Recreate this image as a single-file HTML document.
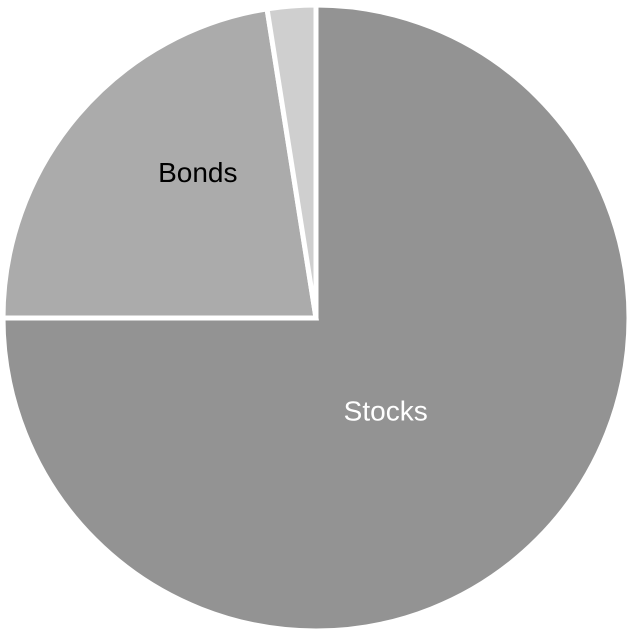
<!DOCTYPE html>
<html><head><meta charset="utf-8"><style>
html,body{margin:0;padding:0;background:#fff;width:632px;height:632px;overflow:hidden}
svg text{font-family:"Liberation Sans",sans-serif;font-size:28px}
</style></head><body>
<svg id="chart" width="632" height="632" viewBox="0 0 632 632"></svg>
<script>
const categories = ["Stocks", "Bonds", "Other"];
const values = [75, 22.5, 2.5];
const colors = ["#939393", "#ababab", "#cfcfcf"];
const labelColors = ["#ffffff", "#000000", null];
const labelRadius = [0.37, 0.6, 0];
const labelAngleShift = [8, 10.5, 0];

const svg = document.getElementById('chart');
const NS = 'http://www.w3.org/2000/svg';
const cx = 316, cy = 318, r = 313;
const total = values.reduce((a, b) => a + b, 0);
function pt(angleDeg, rad) {
  const a = angleDeg * Math.PI / 180;
  return [cx + rad * Math.sin(a), cy - rad * Math.cos(a)];
}
let start = 0;
values.forEach((v, i) => {
  const sweep = v / total * 360;
  const end = start + sweep;
  const [x1, y1] = pt(start, r), [x2, y2] = pt(end, r);
  const large = sweep > 180 ? 1 : 0;
  const p = document.createElementNS(NS, 'path');
  p.setAttribute('d', `M${cx},${cy} L${x1},${y1} A${r},${r} 0 ${large} 1 ${x2},${y2} Z`);
  p.setAttribute('fill', colors[i]);
  p.setAttribute('stroke', '#ffffff');
  p.setAttribute('stroke-width', '5');
  p.setAttribute('stroke-linejoin', 'miter');
  
  
  svg.appendChild(p);
  if (labelColors[i]) {
    const mid = start + sweep / 2 + labelAngleShift[i];
    const [lx, ly] = pt(mid, r * labelRadius[i]);
    const t = document.createElementNS(NS, 'text');
    t.setAttribute('x', lx);
    t.setAttribute('y', ly + 10);
    t.setAttribute('text-anchor', 'middle');
    t.setAttribute('fill', labelColors[i]);
    t.textContent = categories[i];
    
    
    svg.appendChild(t);
  }
  start = end;
});
</script>
</body></html>
